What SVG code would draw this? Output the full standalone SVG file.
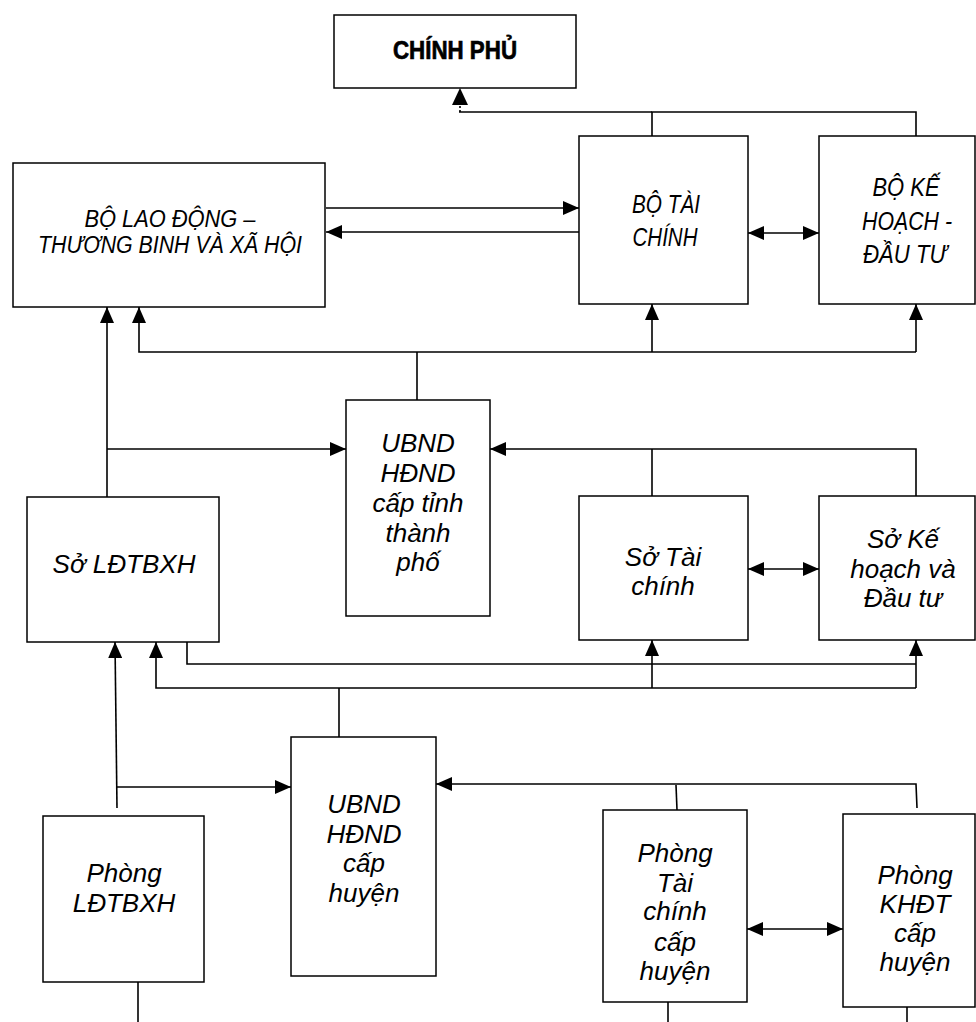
<svg xmlns="http://www.w3.org/2000/svg" width="976" height="1022" viewBox="0 0 976 1022">
<style>
.box{fill:#fff;stroke:#000;stroke-width:1.5}
.ln{fill:none;stroke:#000;stroke-width:1.6}
.t{font-family:"Liberation Sans",Arial,sans-serif;font-style:italic;text-anchor:middle;fill:#000}
.t1{font-size:25px}
.t0{font-size:23px}
.t2{font-size:26px}
.hd{font-family:"Liberation Sans",Arial,sans-serif;font-weight:bold;font-size:26px;text-anchor:middle;fill:#000;stroke:#000;stroke-width:0.7}
</style>
<defs>
<marker id="ah" markerUnits="userSpaceOnUse" markerWidth="16" markerHeight="14" refX="16" refY="7" orient="auto">
<path d="M0,0 L16,7 L0,14 z" fill="#000"/>
</marker>
<marker id="as" markerUnits="userSpaceOnUse" markerWidth="16" markerHeight="14" refX="0" refY="7" orient="auto">
<path d="M16,0 L0,7 L16,14 z" fill="#000"/>
</marker>
</defs>
<rect width="976" height="1022" fill="#fff"/>

<g id="connectors">
<polyline class="ln" points="652,136 652,112 916,112 916,136"/>
<line class="ln" x1="459" y1="112" x2="652" y2="112"/>
<line class="ln" x1="460" y1="112" x2="460" y2="103" stroke-dasharray="2,2"/>
<path d="M460,88 L468,105 L452,105 z" fill="#000"/>
<line class="ln" x1="326" y1="208" x2="579" y2="208" marker-end="url(#ah)"/>
<line class="ln" x1="582" y1="232" x2="326" y2="232" marker-end="url(#ah)"/>
<line class="ln" x1="748" y1="233" x2="819" y2="233" marker-start="url(#as)" marker-end="url(#ah)"/>
<line class="ln" x1="107" y1="497" x2="107" y2="307" marker-end="url(#ah)"/>
<line class="ln" x1="107" y1="449" x2="346" y2="449" marker-end="url(#ah)"/>
<line class="ln" x1="417" y1="400" x2="417" y2="352"/>
<polyline class="ln" points="139,307 139,352 916,352" marker-start="url(#as)"/>
<line class="ln" x1="652" y1="352" x2="652" y2="304" marker-end="url(#ah)"/>
<line class="ln" x1="916" y1="352" x2="916" y2="304" marker-end="url(#ah)"/>
<polyline class="ln" points="916,496 916,449 490,449" marker-end="url(#ah)"/>
<line class="ln" x1="652" y1="496" x2="652" y2="449"/>
<line class="ln" x1="748" y1="569" x2="819" y2="569" marker-start="url(#as)" marker-end="url(#ah)"/>
<polyline class="ln" points="187,642 187,664 916,664"/>
<line class="ln" x1="339" y1="737" x2="339" y2="688"/>
<polyline class="ln" points="156,642 156,688 916,688" marker-start="url(#as)"/>
<line class="ln" x1="652" y1="688" x2="652" y2="640" marker-end="url(#ah)"/>
<line class="ln" x1="916" y1="688" x2="916" y2="640" marker-end="url(#ah)"/>
<line class="ln" x1="117" y1="808" x2="115" y2="642" marker-end="url(#ah)"/>
<line class="ln" x1="117" y1="787" x2="291" y2="787" marker-end="url(#ah)"/>
<polyline class="ln" points="917,808 916,784 436,784" marker-end="url(#ah)"/>
<line class="ln" x1="676" y1="785" x2="677" y2="810"/>
<line class="ln" x1="747" y1="929" x2="843" y2="929" marker-start="url(#as)" marker-end="url(#ah)"/>
<line class="ln" x1="138" y1="982" x2="138" y2="1022"/>
<line class="ln" x1="668" y1="1002" x2="668" y2="1022"/>
<line class="ln" x1="907" y1="1007" x2="907" y2="1022"/>
</g>

<g id="chinh-phu">
<rect class="box" x="334" y="15" width="242" height="73"/>
<text class="hd" x="455" y="59" textLength="124" lengthAdjust="spacingAndGlyphs">CHÍNH PHỦ</text>
</g>

<g id="bo-ldtbxh">
<rect class="box" x="13" y="163" width="312" height="144"/>
<text class="t t0" x="170" y="227" textLength="171" lengthAdjust="spacingAndGlyphs">BỘ LAO ĐỘNG –</text>
<text class="t t0" x="170" y="253" textLength="264" lengthAdjust="spacingAndGlyphs">THƯƠNG BINH VÀ XÃ HỘI</text>
</g>

<g id="bo-tai-chinh">
<rect class="box" x="579" y="136" width="169" height="168"/>
<text class="t t1" x="666" y="213" textLength="68" lengthAdjust="spacingAndGlyphs">BỘ TÀI</text>
<text class="t t1" x="665" y="246" textLength="65" lengthAdjust="spacingAndGlyphs">CHÍNH</text>
</g>

<g id="bo-ke-hoach">
<rect class="box" x="819" y="136" width="156" height="168"/>
<text class="t t1" x="906" y="196" textLength="67" lengthAdjust="spacingAndGlyphs">BỘ KẾ</text>
<text class="t t1" x="907" y="230" textLength="90" lengthAdjust="spacingAndGlyphs">HOẠCH -</text>
<text class="t t1" x="905" y="263" textLength="84" lengthAdjust="spacingAndGlyphs">ĐẦU TƯ</text>
</g>

<g id="ubnd-tinh">
<rect class="box" x="346" y="400" width="144" height="216"/>
<text class="t t2" x="418" y="452">UBND</text>
<text class="t t2" x="418" y="482">HĐND</text>
<text class="t t2" x="418" y="512">cấp tỉnh</text>
<text class="t t2" x="418" y="542">thành</text>
<text class="t t2" x="418" y="571">phố</text>
</g>

<g id="so-ldtbxh">
<rect class="box" x="27" y="497" width="192" height="145"/>
<text class="t t2" x="124" y="573">Sở LĐTBXH</text>
</g>

<g id="so-tai-chinh">
<rect class="box" x="579" y="496" width="169" height="144"/>
<text class="t t2" x="663" y="566">Sở Tài</text>
<text class="t t2" x="663" y="595">chính</text>
</g>

<g id="so-ke-hoach">
<rect class="box" x="819" y="496" width="156" height="144"/>
<text class="t t2" x="903" y="548">Sở Kế</text>
<text class="t t2" x="903" y="578">hoạch và</text>
<text class="t t2" x="903" y="607">Đầu tư</text>
</g>

<g id="ubnd-huyen">
<rect class="box" x="291" y="737" width="145" height="239"/>
<text class="t t2" x="364" y="813">UBND</text>
<text class="t t2" x="364" y="843">HĐND</text>
<text class="t t2" x="364" y="872">cấp</text>
<text class="t t2" x="364" y="902">huyện</text>
</g>

<g id="phong-ldtbxh">
<rect class="box" x="43" y="816" width="161" height="166"/>
<text class="t t2" x="124" y="882">Phòng</text>
<text class="t t2" x="124" y="912">LĐTBXH</text>
</g>

<g id="phong-tai-chinh">
<rect class="box" x="603" y="810" width="144" height="192"/>
<text class="t t2" x="675" y="862">Phòng</text>
<text class="t t2" x="675" y="892">Tài</text>
<text class="t t2" x="675" y="920">chính</text>
<text class="t t2" x="675" y="951">cấp</text>
<text class="t t2" x="675" y="980">huyện</text>
</g>

<g id="phong-khdt">
<rect class="box" x="843" y="814" width="132" height="193"/>
<text class="t t2" x="915" y="884">Phòng</text>
<text class="t t2" x="915" y="913">KHĐT</text>
<text class="t t2" x="915" y="942">cấp</text>
<text class="t t2" x="915" y="971">huyện</text>
</g>
</svg>
